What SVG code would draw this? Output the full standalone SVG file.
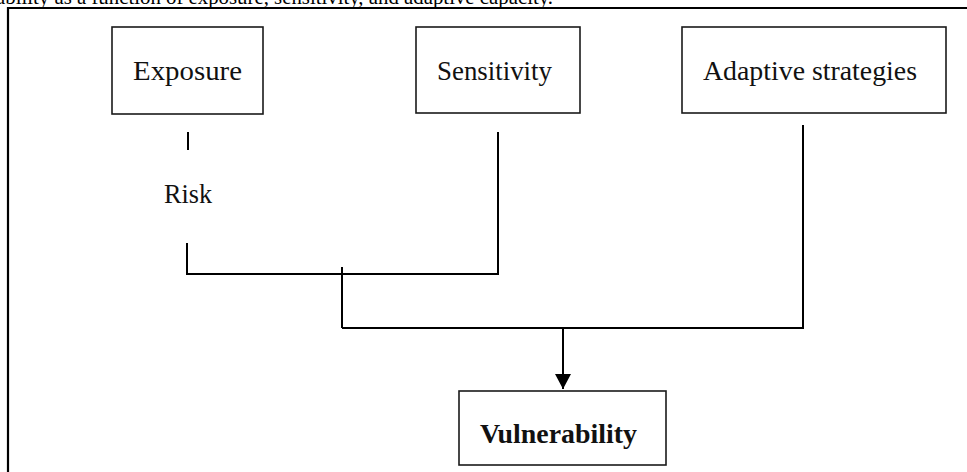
<svg xmlns="http://www.w3.org/2000/svg" width="967" height="472" viewBox="0 0 967 472">
<defs>
<style>
.box{fill:#fff;stroke:#1a1a1a;stroke-width:1.6}
.lbl{font-family:"Liberation Serif","Times New Roman",serif;font-size:27px;fill:#111;text-anchor:start}
.ln{stroke:#000;stroke-width:2;fill:none}
</style>
<marker id="ah" markerWidth="16" markerHeight="16" refX="15" refY="8" orient="auto" markerUnits="userSpaceOnUse" viewBox="0 0 16 16">
<path d="M0,0 L15,8 L0,16 Z" fill="#000"/>
</marker>
</defs>
<rect width="967" height="472" fill="#fff"/>
<text x="-4" y="4" font-family="Liberation Serif, serif" font-size="21" fill="#000" textLength="557" lengthAdjust="spacingAndGlyphs">ability as a function of exposure, sensitivity, and adaptive capacity.</text>
<path d="M8,480 L8,8 L975,8" fill="none" stroke="#000" stroke-width="2.2"/>
<g id="exposure">
<rect class="box" x="112" y="27" width="151" height="87"/>
<text class="lbl" x="133" y="80" textLength="109" lengthAdjust="spacingAndGlyphs">Exposure</text>
</g>
<g id="sensitivity">
<rect class="box" x="416" y="27" width="164" height="86"/>
<text class="lbl" x="437" y="80" textLength="115" lengthAdjust="spacingAndGlyphs">Sensitivity</text>
</g>
<g id="adaptive">
<rect class="box" x="682" y="27" width="264" height="86"/>
<text class="lbl" x="703" y="80" textLength="214" lengthAdjust="spacingAndGlyphs">Adaptive strategies</text>
</g>
<g id="vulnerability">
<rect class="box" x="459" y="391" width="207" height="74"/>
<text class="lbl" x="480" y="443" font-weight="bold" textLength="157" lengthAdjust="spacingAndGlyphs">Vulnerability</text>
</g>
<g id="risk">
<text class="lbl" x="164" y="203" font-size="23" textLength="48" lengthAdjust="spacingAndGlyphs">Risk</text>
</g>
<g id="connectors">
<line class="ln" x1="188" y1="132" x2="188" y2="150"/>
<path class="ln" d="M187,243 L187,274 L498,274 L498,132"/>
<line class="ln" x1="342" y1="267" x2="342" y2="328"/>
<path class="ln" d="M342,328 L803,328 L803,125"/>
<line class="ln" x1="563" y1="328" x2="563" y2="389" marker-end="url(#ah)"/>
</g>
</svg>
